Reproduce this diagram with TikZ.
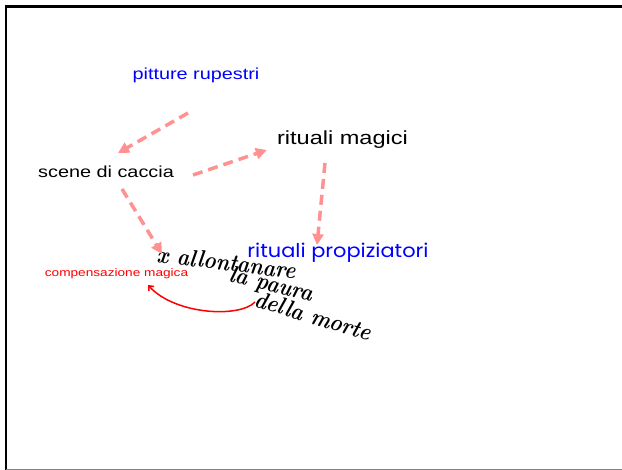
\documentclass[tikz,border=0pt]{standalone}
\usepackage{fontspec}
\newfontfamily\slidefont{Liberation Sans}
\newfontfamily\comicfont{Poppins}
\usetikzlibrary{arrows.meta}
\definecolor{flowpink}{RGB}{255,145,145}
\newcommand\slidetext[2][1.24]{\scalebox{#1}[1]{#2}}

\begin{document}
\begin{tikzpicture}[x=1pt,y=-1pt,
   every node/.style={inner sep=0pt},
   word/.style={anchor=base,font=\slidefont\fontsize{#1}{#1}\selectfont},
   hand/.style={anchor=base west,font=\bfseries\itshape\fontsize{24}{24}\selectfont},
   flow/.style={draw=flowpink,line width=3.5pt,dash pattern=on 10pt off 6pt,
      -{Triangle[length=11pt,width=11pt]}}]
   \useasboundingbox (0,0) rectangle (622,470);
   % Slide frame
   \draw [line width=2.5pt] (640,6.5) -- (6,6.5) -- (6,471);
   \draw [gray] (6,469.5) -- (640,469.5);
   % Labels
   \node [word=16,blue] (rupestri) at (196,80) {\slidetext{pitture rupestri}};
   \node [word=16] (caccia) at (106,178) {\slidetext{scene di caccia}};
   \node [word=19] (magici) at (342.5,144.5) {\slidetext{rituali magici}};
   \node [word=11,red] (compensazione) at (116.5,276.5) {\slidetext{compensazione magica}};
   \node [anchor=base,blue,font=\comicfont\fontsize{19}{19}\selectfont] (propiziatori)
      at (338,258) {\slidetext[1.1]{rituali propiziatori}};
   % Handwritten note
   \node [hand,rotate=-7] (allontanare) at (156,262) {\slidetext[0.87]{x allontanare}};
   \node [hand,rotate=-14] (paura) at (228,281) {\slidetext[0.87]{la paura}};
   \node [hand,rotate=-17] (morte) at (253,306) {\slidetext[0.87]{della morte}};
   % Dashed arrows
   \draw [flow] ([shift={(-8,33)}]rupestri.base) -- ([shift={(12,-25)}]caccia.base);
   \draw [flow] ([shift={(19,-3)}]caccia.base east) -- ([shift={(-10,5.5)}]magici.base west);
   \draw [flow] ([shift={(16,11)}]caccia.base) -- ([shift={(6,-8)}]allontanare.base west);
   \draw [flow] ([shift={(-17.5,18.5)}]magici.base) -- ([shift={(-21,-13)}]propiziatori.base);
   % Curved arrow
   \draw [red,line width=1.5pt,-{Straight Barb[length=4pt,width=7pt]}]
      ([shift={(2,-4)}]morte.base west) .. controls +(-15,16) and +(27,30)
      .. ([shift={(31.5,8.5)}]compensazione.base);
\end{tikzpicture}
\end{document}
